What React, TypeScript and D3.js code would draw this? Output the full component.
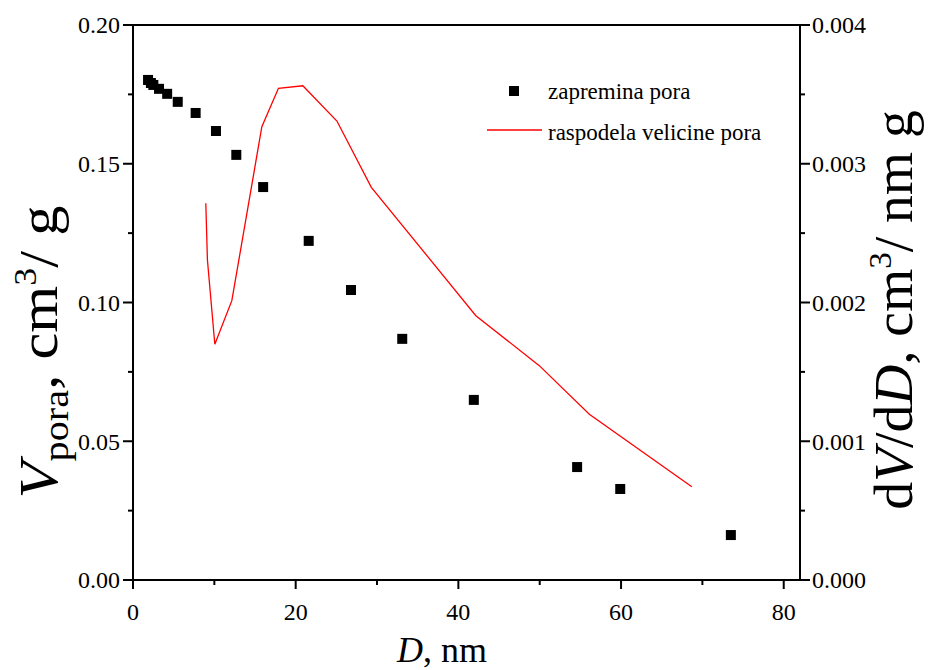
import React from "react";
import * as d3 from "d3";

// pore volume (squares), left axis
const volD = [1.85, 2.2, 2.5, 3.2, 4.2, 5.5, 7.7, 10.2, 12.7, 16.0, 21.6, 26.8, 33.1, 41.9, 54.6, 59.9, 73.5];
const volV = [0.1802, 0.1791, 0.1784, 0.177, 0.1752, 0.1723, 0.1683, 0.1618, 0.1532, 0.1416, 0.1222, 0.1045, 0.0869, 0.0649, 0.0407, 0.0328, 0.0162];

// pore size distribution (red line), right axis
const distD = [8.95, 9.15, 10.06, 12.15, 15.84, 17.88, 20.88, 25.07, 29.3, 42.15, 49.95, 56.1, 68.7];
const distV = [0.002715, 0.002306, 0.001699, 0.002013, 0.003267, 0.003544, 0.003562, 0.003308, 0.00283, 0.001905, 0.001545, 0.001194, 0.000672];

const xTicks = [0, 20, 40, 60, 80];
const xMinor = [10, 30, 50, 70];
const yTicks = [0, 0.05, 0.1, 0.15, 0.2];
const yMinor = [0.025, 0.075, 0.125, 0.175];
const y2Ticks = [0, 0.001, 0.002, 0.003, 0.004];
const y2Minor = [0.0005, 0.0015, 0.0025, 0.0035];

const legendLabels = ["zapremina pora", "raspodela velicine pora"];

const FONT = "Liberation Serif, Times New Roman, Tinos, DejaVu Serif, serif";

export default function App() {
  const L = 133, R = 800, T = 25, B = 580;
  const x = d3.scaleLinear().domain([0, 82]).range([L, R]);
  const y = d3.scaleLinear().domain([0, 0.2]).range([B, T]);
  const y2 = d3.scaleLinear().domain([0, 0.004]).range([B, T]);

  const line = d3
    .line<number>()
    .x((_, i) => x(distD[i]))
    .y((d) => y2(d));

  const sq = 10;
  const ts = { fontFamily: FONT } as React.CSSProperties;

  return (
    <svg
      width={930}
      height={670}
      style={{ position: "absolute", left: 0, top: 0, background: "#fff" }}
    >
      <rect x={0} y={0} width={930} height={670} fill="#fff" />
      {/* data: red line */}
      <path d={line(distV) || ""} fill="none" stroke="#ff0000" strokeWidth={1.3} />
      {/* data: squares */}
      {volV.map((v, i) => (
        <rect key={i} x={x(volD[i]) - sq / 2} y={y(v) - sq / 2} width={sq} height={sq} fill="#000" />
      ))}

      {/* frame */}
      <g stroke="#000" strokeWidth={2} fill="none">
        <line x1={L} y1={B} x2={R} y2={B} />
        <line x1={L} y1={T} x2={R} y2={T} />
        <line x1={L} y1={T - 1} x2={L} y2={B + 1} />
        <line x1={R} y1={T - 1} x2={R} y2={B + 1} />
      </g>

      {/* ticks */}
      <g stroke="#000" strokeWidth={2}>
        {xTicks.map((t) => (
          <line key={"xt" + t} x1={x(t)} x2={x(t)} y1={B} y2={B + 9} />
        ))}
        {xMinor.map((t) => (
          <line key={"xm" + t} x1={x(t)} x2={x(t)} y1={B} y2={B + 5} />
        ))}
        {yTicks.map((t) => (
          <line key={"yt" + t} x1={L} x2={L - 10} y1={y(t)} y2={y(t)} />
        ))}
        {yMinor.map((t) => (
          <line key={"ym" + t} x1={L} x2={L - 5} y1={y(t)} y2={y(t)} />
        ))}
        {y2Ticks.map((t) => (
          <line key={"y2t" + t} x1={R} x2={R + 10} y1={y2(t)} y2={y2(t)} />
        ))}
        {y2Minor.map((t) => (
          <line key={"y2m" + t} x1={R} x2={R + 5} y1={y2(t)} y2={y2(t)} />
        ))}
      </g>

      {/* tick labels */}
      <g fill="#000" style={{ ...ts, fontSize: 24 }}>
        {xTicks.map((t) => (
          <text key={"xl" + t} x={x(t)} y={620} textAnchor="middle" style={ts}>
            {d3.format("d")(t)}
          </text>
        ))}
        {yTicks.map((t) => (
          <text key={"yl" + t} x={120} y={y(t)} dy="0.35em" textAnchor="end" style={ts}>
            {d3.format(".2f")(t)}
          </text>
        ))}
        {y2Ticks.map((t) => (
          <text key={"y2l" + t} x={812} y={y2(t)} dy="0.35em" textAnchor="start" style={ts}>
            {d3.format(".3f")(t)}
          </text>
        ))}
      </g>

      {/* x title */}
      <text x={442} y={662} textAnchor="middle" fill="#000" style={{ ...ts, fontSize: 36 }}>
        <tspan fontStyle="italic">D</tspan>
        <tspan>, nm</tspan>
      </text>

      {/* left title */}
      <text transform="translate(57,352) rotate(-90) scale(1.12,1)" textAnchor="middle" fill="#000" style={{ ...ts, fontSize: 54 }}>
        <tspan fontStyle="italic">V</tspan>
        <tspan fontSize={36} dy={11}>pora</tspan>
        <tspan dy={-11}>, cm</tspan>
        <tspan fontSize={32} dy={-21}>3</tspan>
        <tspan dy={21}>/ g</tspan>
      </text>

      {/* right title */}
      <text transform="translate(912,310) rotate(-90) scale(1.03,1)" textAnchor="middle" fill="#000" style={{ ...ts, fontSize: 54 }}>
        <tspan>d</tspan>
        <tspan fontStyle="italic">V</tspan>
        <tspan>/d</tspan>
        <tspan fontStyle="italic">D</tspan>
        <tspan>, cm</tspan>
        <tspan fontSize={32} dy={-21}>3</tspan>
        <tspan dy={21}>/ nm g</tspan>
      </text>

      {/* legend */}
      <rect x={514 - sq / 2} y={91 - sq / 2} width={sq} height={sq} fill="#000" />
      <text x={548} y={99} fill="#000" style={{ ...ts, fontSize: 23 }}>
        {legendLabels[0]}
      </text>
      <line x1={487} x2={542} y1={130} y2={130} stroke="#ff0000" strokeWidth={1.3} />
      <text x={548} y={140} fill="#000" style={{ ...ts, fontSize: 23 }}>
        {legendLabels[1]}
      </text>
    </svg>
  );
}
